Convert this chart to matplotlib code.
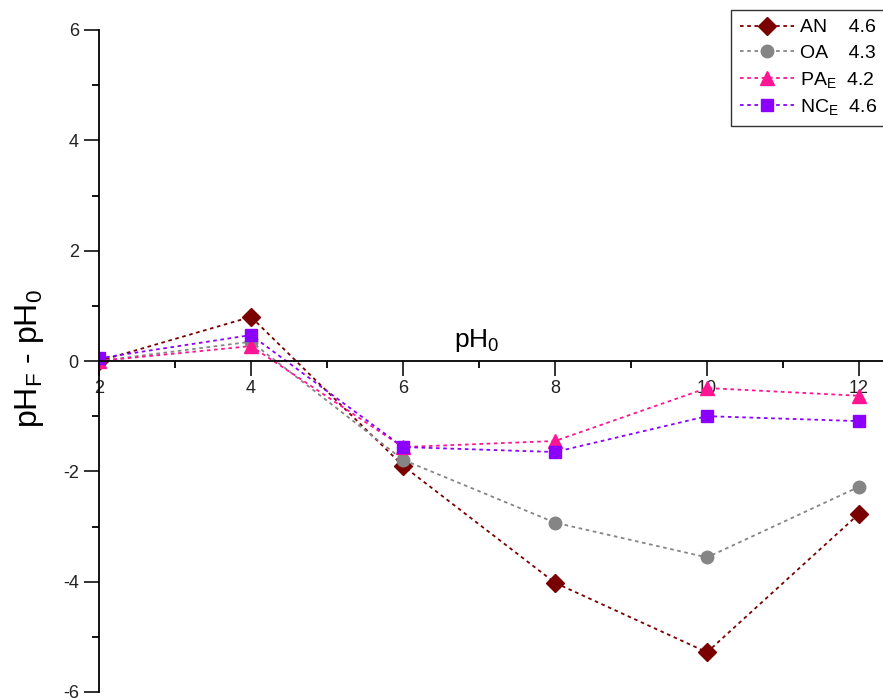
import matplotlib
matplotlib.use("Agg")
import matplotlib.pyplot as plt
from matplotlib.ticker import MultipleLocator

plt.rcParams['font.family'] = ['Liberation Sans', 'DejaVu Sans']
plt.rcParams['mathtext.fontset'] = 'custom'
plt.rcParams['mathtext.rm'] = 'Liberation Sans'
plt.rcParams['mathtext.it'] = 'Liberation Sans'
plt.rcParams['axes.unicode_minus'] = False

ph0 = [2, 4, 6, 8, 10, 12]
an = [0.0, 0.80, -1.90, -4.02, -5.28, -2.77]
oa = [0.0, 0.35, -1.79, -2.93, -3.56, -2.28]
pa = [0.0, 0.27, -1.56, -1.45, -0.49, -0.63]
nc = [0.05, 0.47, -1.56, -1.65, -1.00, -1.09]
labels = [r"AN    4.6", r"OA    4.3", r"PA$_\mathregular{E}$  4.2", r"NC$_\mathregular{E}$  4.6"]
colors = ["#7a0000", "#858585", "#ff1493", "#8b00ff"]
markers = ["D", "o", "^", "s"]
msizes = [9, 9, 10, 9]

fig = plt.figure(figsize=(8.83, 7.0), dpi=100)
ax = fig.add_axes([99/883, 1-692/700, 1-99/883, 662/700])

for ys, lab, c, m, ms in zip([an, oa, pa, nc], labels, colors, markers, msizes):
    ax.plot(ph0, ys, linestyle=(0, (2, 2)), linewidth=1.3, color=c,
            marker=m, markersize=ms, markeredgecolor=c, markerfacecolor=c, label=lab)

ax.set_xlim(2, 2 + (883-99)/76)
ax.set_ylim(-6, 6)
ax.spines['top'].set_visible(False)
ax.spines['right'].set_visible(False)
ax.spines['bottom'].set_position(('data', 0))
ax.spines['left'].set_bounds(-6, 6)
for s in ['left', 'bottom']:
    ax.spines[s].set_linewidth(1.3)

ax.xaxis.set_major_locator(MultipleLocator(2))
ax.xaxis.set_minor_locator(MultipleLocator(1))
ax.yaxis.set_major_locator(MultipleLocator(2))
ax.yaxis.set_minor_locator(MultipleLocator(1))
ax.tick_params(axis='both', which='major', length=11, width=1.3, direction='out', labelsize=13, colors='#222222')
ax.tick_params(axis='both', which='minor', length=5, width=1.3, direction='out')
ax.tick_params(axis='x', pad=3)

ax.text(6.97, 0.12, r"pH$_\mathregular{0}$", ha='center', va='bottom', fontsize=19)
fig.text(30/883, 1-358/700, r"pH$_\mathregular{F}$ - pH$_\mathregular{0}$", rotation=90,
         ha='center', va='center', fontsize=23)

leg = fig.legend(loc='upper left', bbox_to_anchor=(731/883, 1-10/700), frameon=True,
                 fancybox=False, fontsize=14, handlelength=2.8, labelspacing=0.4,
                 borderpad=0.45, handletextpad=0.3, borderaxespad=0)
leg.get_frame().set_edgecolor('black')
leg.get_frame().set_linewidth(1.0)

fig.savefig("out.png", dpi=100)
